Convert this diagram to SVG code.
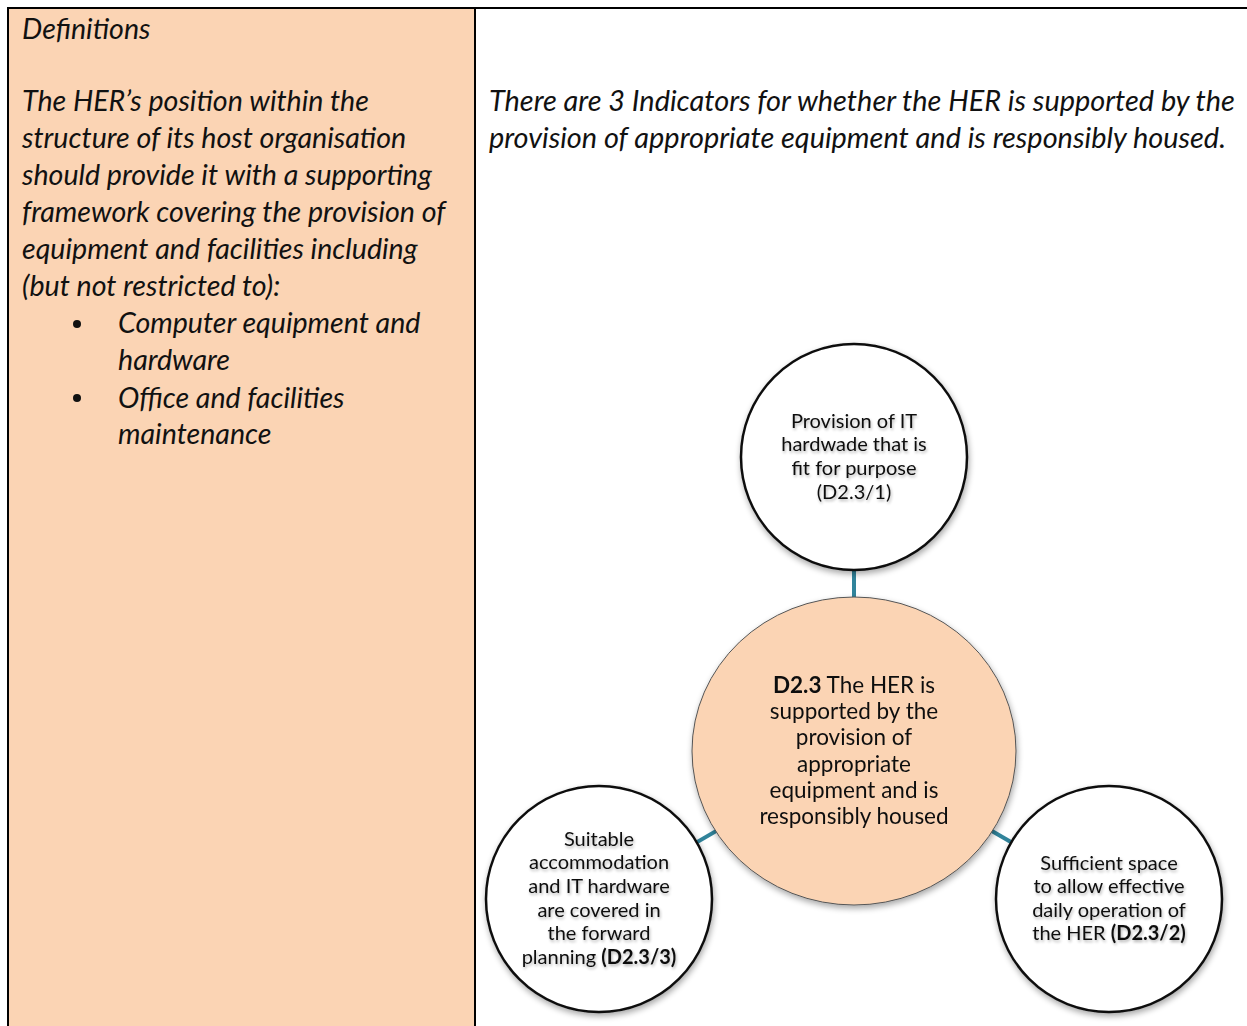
<svg xmlns="http://www.w3.org/2000/svg" width="1247" height="1026" viewBox="0 0 1247 1026">
<defs>
<filter id="sh" x="-20%" y="-20%" width="140%" height="140%">
<feGaussianBlur in="SourceAlpha" stdDeviation="3"/>
<feOffset dx="1" dy="3" result="b"/>
<feComponentTransfer><feFuncA type="linear" slope="0.35"/></feComponentTransfer>
<feMerge><feMergeNode/><feMergeNode in="SourceGraphic"/></feMerge>
</filter>
<filter id="tsh" x="-10%" y="-10%" width="120%" height="130%">
<feGaussianBlur in="SourceAlpha" stdDeviation="1.5"/>
<feOffset dx="1" dy="2"/>
<feComponentTransfer><feFuncA type="linear" slope="0.3"/></feComponentTransfer>
<feMerge><feMergeNode/><feMergeNode in="SourceGraphic"/></feMerge>
</filter>
</defs>
<style>
.it{font-family:Lato,"Liberation Sans",sans-serif;font-style:italic;font-size:28.6px;fill:#111}
.it2{font-size:28.9px}
.ct{font-family:Lato,"Liberation Sans",sans-serif;font-size:20px;fill:#111;text-anchor:middle}
.cc{font-family:Lato,"Liberation Sans",sans-serif;font-size:22.5px;fill:#111;text-anchor:middle}
.b{font-weight:bold}
.outer{fill:#fff;stroke:#111;stroke-width:2.5}
.conn{stroke:#31849B;stroke-width:4;fill:none}
</style>
<rect width="1247" height="1026" fill="#fff"/>
<g id="table">
<rect x="8" y="8" width="467" height="1030" fill="#FBD4B4"/>
<path d="M8 1030 V8 H1250 M475 8 V1030" stroke="#000" stroke-width="2" fill="none"/>
</g>
<g id="definitions">
<text class="it" x="22" y="39">Definitions</text>
<text class="it" x="22" y="111">The HER’s position within the</text>
<text class="it" x="22" y="148">structure of its host organisation</text>
<text class="it" x="22" y="185">should provide it with a supporting</text>
<text class="it" x="22" y="222">framework covering the provision of</text>
<text class="it" x="22" y="259">equipment and facilities including</text>
<text class="it" x="22" y="296">(but not restricted to):</text>
<circle cx="77" cy="324" r="4" fill="#111"/>
<text class="it" x="118" y="333">Computer equipment and</text>
<text class="it" x="118" y="370">hardware</text>
<circle cx="77" cy="398" r="4" fill="#111"/>
<text class="it" x="118" y="408">Office and facilities</text>
<text class="it" x="118" y="444">maintenance</text>
</g>
<g id="intro">
<text class="it it2" x="489" y="111">There are 3 Indicators for whether the HER is supported by the</text>
<text class="it it2" x="489" y="148">provision of appropriate equipment and is responsibly housed.</text>
</g>
<g id="connectors">
<line class="conn" x1="854" y1="560" x2="854" y2="610"/>
<line class="conn" x1="854" y1="751" x2="599" y2="899"/>
<line class="conn" x1="854" y1="751" x2="1109" y2="899"/>
</g>
<g id="node-d231" filter="url(#sh)">
<circle class="outer" cx="854" cy="457" r="113"/>
<g filter="url(#tsh)">
<text class="ct" x="854" y="428">Provision of IT</text>
<text class="ct" x="854" y="451">hardwade that is</text>
<text class="ct" x="854" y="475">fit for purpose</text>
<text class="ct" x="854" y="499">(D2.3/1)</text>
</g>
</g>
<g id="node-d23" filter="url(#sh)">
<ellipse cx="854" cy="751" rx="162" ry="154" fill="#FBD4B4" stroke="#555" stroke-width="1"/>
<text class="cc" x="854" y="693"><tspan class="b">D2.3</tspan> The HER is</text>
<text class="cc" x="854" y="719">supported by the</text>
<text class="cc" x="854" y="745">provision of</text>
<text class="cc" x="854" y="772">appropriate</text>
<text class="cc" x="854" y="798">equipment and is</text>
<text class="cc" x="854" y="824">responsibly housed</text>
</g>
<g id="node-d233" filter="url(#sh)">
<circle class="outer" cx="599" cy="899" r="113"/>
<g filter="url(#tsh)">
<text class="ct" x="599" y="846">Suitable</text>
<text class="ct" x="599" y="869">accommodation</text>
<text class="ct" x="599" y="893">and IT hardware</text>
<text class="ct" x="599" y="917">are covered in</text>
<text class="ct" x="599" y="940">the forward</text>
<text class="ct" x="599" y="964">planning <tspan class="b">(D2.3/3)</tspan></text>
</g>
</g>
<g id="node-d232" filter="url(#sh)">
<circle class="outer" cx="1109" cy="899" r="113"/>
<g filter="url(#tsh)">
<text class="ct" x="1109" y="870">Sufficient space</text>
<text class="ct" x="1109" y="893">to allow effective</text>
<text class="ct" x="1109" y="917">daily operation of</text>
<text class="ct" x="1109" y="940">the HER <tspan class="b">(D2.3/2)</tspan></text>
</g>
</g>
</svg>
